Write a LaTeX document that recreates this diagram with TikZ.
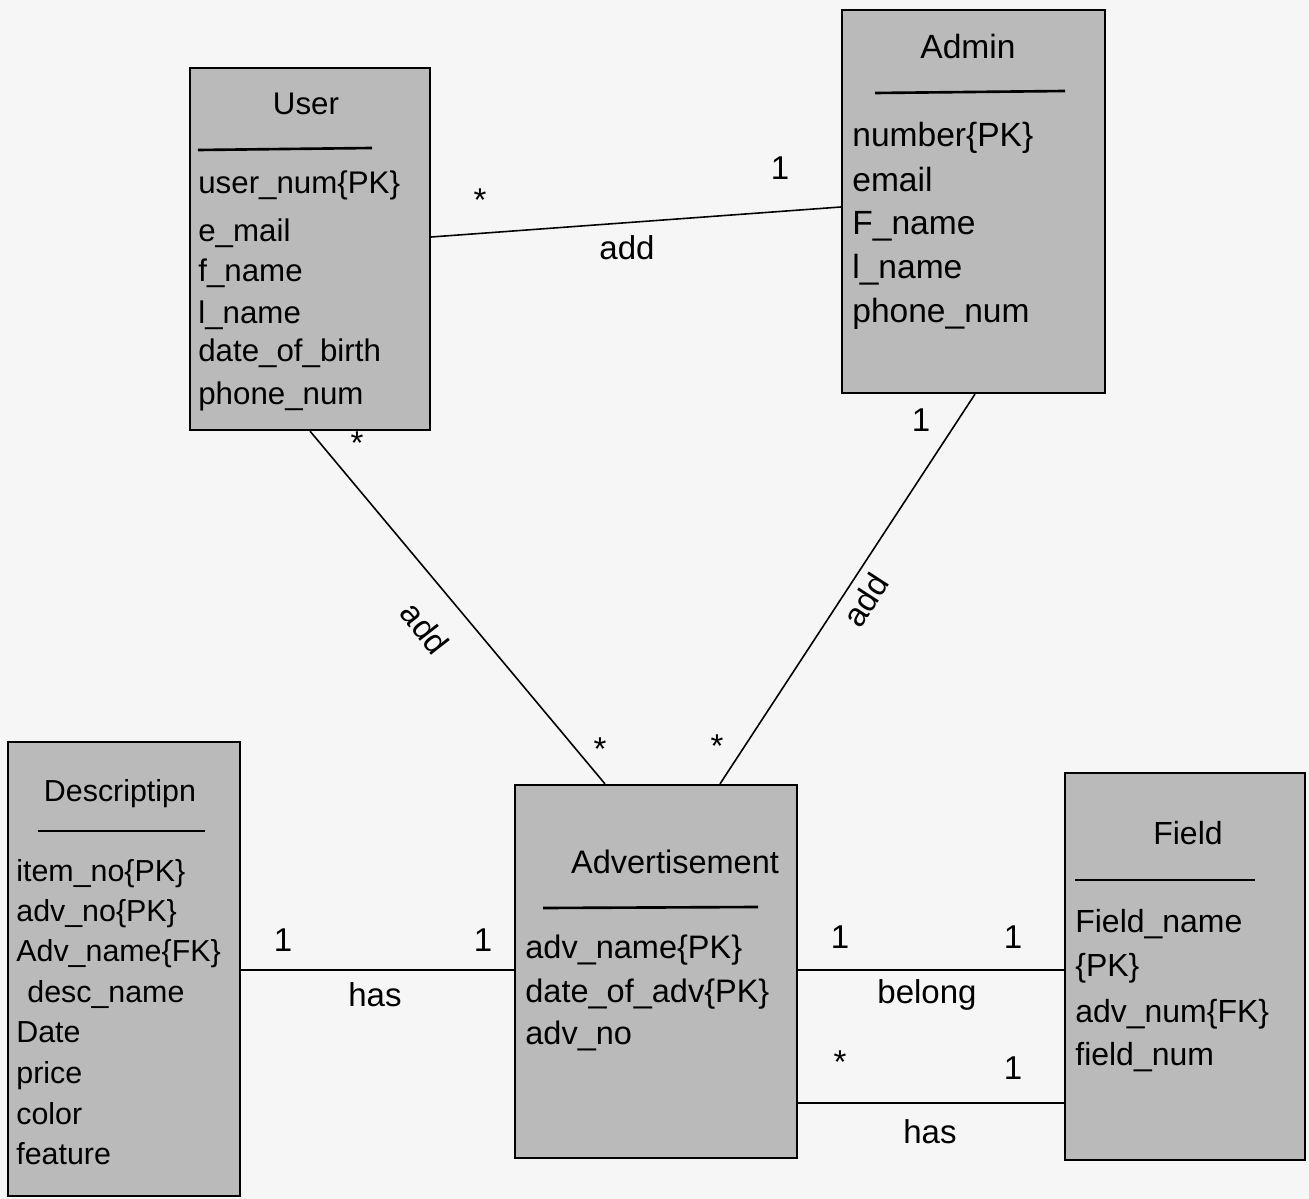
\documentclass[tikz,border=0pt]{standalone}
\usepackage{fontspec}
\setmainfont{Liberation Sans}
\usetikzlibrary{calc}
\definecolor{bg}{HTML}{F6F6F6}
\definecolor{boxg}{HTML}{BABABA}
\begin{document}
\begin{tikzpicture}[x=0.02cm,y=-0.02cm,
  box/.style={draw=black, line width=1.3pt, fill=boxg, inner sep=0pt, rectangle},
  attr/.style={anchor=base west, inner sep=0pt},
  ttl/.style={anchor=base, inner sep=0pt},
  lbl/.style={inner sep=0pt, font=\fontsize{18.8}{20}\selectfont},
  conn/.style={line width=0.9pt},
  uline/.style={line width=1.5pt}]
\fill[bg] (0,0) rectangle (1309,1199);
\useasboundingbox (0,0) rectangle (1309,1199);

% boxes
\node[box, minimum width=4.8cm, minimum height=7.24cm] (user) at (310,249) {};
\node[box, minimum width=5.26cm, minimum height=7.66cm] (admin) at (973.5,201.5) {};
\node[box, minimum width=4.64cm, minimum height=9.08cm] (desc) at (124,969) {};
\node[box, minimum width=5.64cm, minimum height=7.46cm] (adv) at (656,971.5) {};
\node[box, minimum width=4.8cm, minimum height=7.74cm] (field) at (1185,966.5) {};

% User
\begin{scope}[font=\fontsize{17.8}{20}\selectfont]
\node[ttl] (userT) at (306,115) {User};
\draw[uline] (198,150) -- (372,148);
\foreach \t/\y [count=\i] in {user\_num\{PK\}/194, e\_mail/242, f\_name/282, l\_name/324, date\_of\_birth/362, phone\_num/405}
  \node[attr] (ua\i) at (198,\y) {\t};
\end{scope}

% Admin
\begin{scope}[font=\fontsize{19.1}{21}\selectfont]
\node[ttl] (adminT) at (968,59) {Admin};
\draw[uline] (875,93) -- (1065,91);
\foreach \t/\y [count=\i] in {number\{PK\}/147, email/192, F\_name/235, l\_name/279, phone\_num/323}
  \node[attr] (aa\i) at (852,\y) {\t};
\end{scope}

% Description
\begin{scope}[font=\fontsize{17.3}{19}\selectfont]
\node[ttl] (descT) at (120,801) {Descriptipn};
\draw[uline] (38,831) -- (205,831);
\foreach \t/\y/\x [count=\i] in {item\_no\{PK\}/881/16, adv\_no\{PK\}/921/16, Adv\_name\{FK\}/961/16, desc\_name/1002/27, Date/1042/16, price/1083/16, color/1124/16, feature/1164/16}
  \node[attr] (da\i) at (\x,\y) {\t};
\end{scope}

% Advertisement
\begin{scope}[font=\fontsize{18.5}{20}\selectfont]
\node[ttl] (advT) at (675,873) {Advertisement};
\draw[uline] (543,908) -- (758,907);
\foreach \t/\y [count=\i] in {adv\_name\{PK\}/958, date\_of\_adv\{PK\}/1002, adv\_no/1044}
  \node[attr] (va\i) at (525,\y) {\t};
\end{scope}

% Field
\begin{scope}[font=\fontsize{18.2}{20}\selectfont]
\node[ttl] (fieldT) at (1188,844) {Field};
\draw[uline] (1075,880) -- (1255,880);
\foreach \t/\y [count=\i] in {Field\_name/932, \{PK\}/976, adv\_num\{FK\}/1022, field\_num/1065}
  \node[attr] (fa\i) at (1075,\y) {\t};
\end{scope}

% connectors
\draw[conn] ($(user.east)+(0,-12)$) -- ($(admin.west)+(0,5.5)$);
\draw[conn] (user.south) -- ($(adv.north)+(-51,0)$);
\draw[conn] ($(admin.south)+(1.5,0)$) -- ($(adv.north)+(64,0)$);
\draw[conn] ($(desc.east)+(0,1)$) -- ($(adv.west)+(0,-1.5)$);
\draw[conn] ($(adv.east)+(0,-1.5)$) -- ($(field.west)+(0,3.5)$);
\draw[conn] ($(adv.east)+(0,131.5)$) -- ($(field.west)+(0,136.5)$);

% labels
\node[lbl] (l1) at (480,200) {*};
\node[lbl] (l2) at (780,168) {1};
\node[lbl] (l3) at (627,248) {add};
\node[lbl] (l4) at (357,443) {*};
\node[lbl] (l5) at (600,749) {*};
\node[lbl, rotate=-52] (l6) at (425,628) {add};
\node[lbl] (l7) at (921,420) {1};
\node[lbl] (l8) at (717,746) {*};
\node[lbl, rotate=57] (l9) at (866,600) {add};
\node[lbl] (l10) at (283,940) {1};
\node[lbl] (l11) at (483,940) {1};
\node[lbl] (l12) at (375,995) {has};
\node[lbl] (l13) at (840,937) {1};
\node[lbl] (l14) at (1013,937) {1};
\node[lbl] (l15) at (927,995) {belong};
\node[lbl] (l16) at (840,1062) {*};
\node[lbl] (l17) at (1013,1068) {1};
\node[lbl] (l18) at (930,1132) {has};
\end{tikzpicture}
\end{document}
